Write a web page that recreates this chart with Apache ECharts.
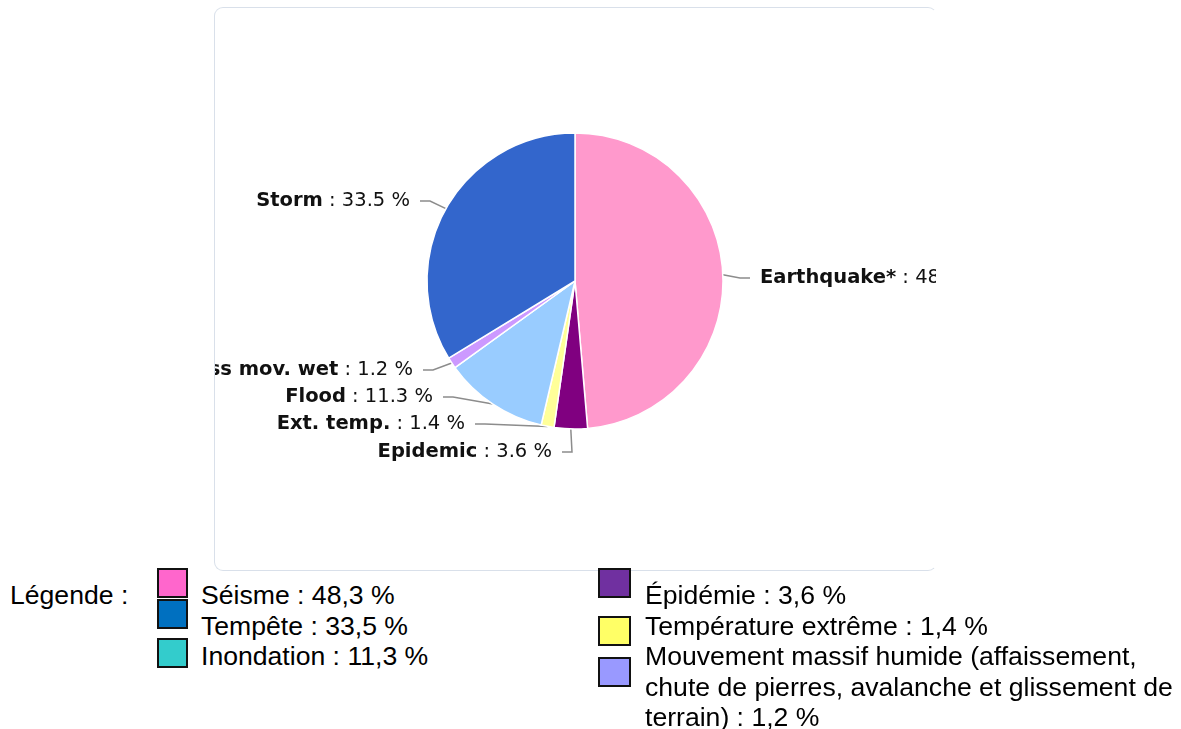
<!DOCTYPE html>
<html>
<head>
<meta charset="utf-8">
<script src="https://cdn.jsdelivr.net/npm/echarts@6/dist/echarts.min.js"></script>
<style>
  html, body { margin: 0; padding: 0; width: 1181px; height: 729px; overflow: hidden; background: #fff; }
  #frame {
    position: absolute; left: 214px; top: 7px; width: 721px; height: 562px;
    border: 1px solid #d9e0ea; border-right-color: transparent; border-radius: 9px;
    overflow: hidden; background: #fff;
  }
  #chart { position: absolute; left: -215px; top: -8px; width: 1181px; height: 729px; }
  .legend-text {
    position: absolute; font-family: 'Liberation Sans', Arial, sans-serif;
    font-size: 26.6px; line-height: 30.5px; color: #000; white-space: normal;
  }
  .swatch { position: absolute; border: 2px solid #111; box-sizing: border-box; }
</style>
</head>
<body>
<div id="frame"><div id="chart"></div></div>
<div id="legend"></div>
<script>
// Disaster types and their share of the total (%)
const categories = ['Earthquake*', 'Epidemic', 'Ext. temp.', 'Flood', 'Mass mov. wet', 'Storm'];
const shares = [48.3, 3.6, 1.4, 11.3, 1.2, 33.5];
const sliceColors = ['#ff99cc', '#800080', '#ffff99', '#99ccff', '#cc99ff', '#3366cc'];

// French legend entries (same shares, in the order they are listed)
const legendNames = ['Séisme', 'Tempête', 'Inondation', 'Épidémie', 'Température extrême',
  'Mouvement massif humide (affaissement, chute de pierres, avalanche et glissement de terrain)'];
const legendShares = [48.3, 33.5, 11.3, 3.6, 1.4, 1.2];
const legendColors = ['#ff66cc', '#0070c0', '#33cccc', '#7030a0', '#ffff66', '#9999ff'];

// Pie geometry and where each slice label sits (text anchor, one per category)
const pieCenter = [575, 281];
const pieRadius = 148;
const labelAnchors = [[760, 278], [552, 452], [465, 424], [433, 397], [413, 370], [410, 201]];

// Point on the rim at the middle of a slice (fallback for the label line start)
function rimPoint(index) {
  const total = shares.reduce((a, b) => a + b, 0);
  let before = 0;
  for (let i = 0; i < index; i++) before += shares[i];
  const a = (before + shares[index] / 2) / total * Math.PI * 2;
  return [pieCenter[0] + pieRadius * Math.sin(a), pieCenter[1] - pieRadius * Math.cos(a)];
}

const chart = echarts.init(document.getElementById('chart'), null, { renderer: 'canvas' });
chart.setOption({
  animation: false,
  backgroundColor: 'transparent',
  series: [{
    type: 'pie',
    center: pieCenter,
    radius: pieRadius,
    startAngle: 90,
    clockwise: true,
    avoidLabelOverlap: false,
    itemStyle: { borderColor: '#ffffff', borderWidth: 1.5 },
    data: categories.map((name, i) => ({ name, value: shares[i], itemStyle: { color: sliceColors[i] } })),
    label: {
      show: true,
      position: 'outside',
      color: '#000',
      formatter: p => `{n|${p.name}}{v| : ${p.value.toFixed(1)} %}`,
      rich: {
        n: { fontFamily: 'DejaVu Sans', fontSize: 19.5, fontWeight: 'bold', color: '#111' },
        v: { fontFamily: 'DejaVu Sans', fontSize: 19.5, color: '#111' }
      }
    },
    labelLine: {
      show: true, length: 16, length2: 10,
      lineStyle: { color: '#8c8c8c', width: 1.5 }
    },
    labelLayout: params => {
      const [x, y] = labelAnchors[params.dataIndex];
      const onRight = x > pieCenter[0];
      const rim = (params.labelLinePoints && params.labelLinePoints[0]) || rimPoint(params.dataIndex);
      const near = onRight ? x - 10 : x + 10;
      const elbow = onRight ? x - 20 : x + 20;
      return {
        x, y,
        align: onRight ? 'left' : 'right',
        verticalAlign: 'middle',
        labelLinePoints: [rim, [elbow, y], [near, y]]
      };
    },
    emphasis: { disabled: true }
  }]
});

// Legend below the chart: two columns of coloured swatches and French labels
const legend = document.getElementById('legend');
const title = document.createElement('div');
title.className = 'legend-text';
title.style.left = '10px';
title.style.top = '580px';
title.textContent = 'Légende :';
legend.appendChild(title);

const columns = [
  { textLeft: 201, swatchLeft: 157, swatchW: 31, items: [0, 1, 2], swatchTops: [568, 599, 638] },
  { textLeft: 645, swatchLeft: 598, swatchW: 33, items: [3, 4, 5], swatchTops: [568, 616, 657] }
];
columns.forEach(col => {
  const block = document.createElement('div');
  block.className = 'legend-text';
  block.style.left = col.textLeft + 'px';
  block.style.top = '580px';
  block.style.width = (1181 - col.textLeft) + 'px';
  col.items.forEach((idx, k) => {
    const line = document.createElement('div');
    line.textContent = `${legendNames[idx]} : ${legendShares[idx].toFixed(1).replace('.', ',')} %`;
    block.appendChild(line);
    const sw = document.createElement('div');
    sw.className = 'swatch';
    sw.style.left = col.swatchLeft + 'px';
    sw.style.top = col.swatchTops[k] + 'px';
    sw.style.width = col.swatchW + 'px';
    sw.style.height = '30px';
    sw.style.background = legendColors[idx];
    legend.appendChild(sw);
  });
  legend.appendChild(block);
});
</script>
</body>
</html>
